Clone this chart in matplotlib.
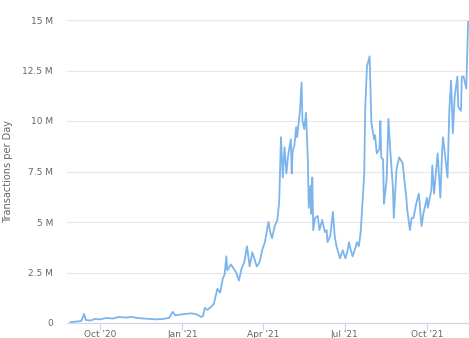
import numpy as np
import pandas as pd
import matplotlib
matplotlib.use('Agg')
from matplotlib import pyplot as plt

# daily transactions, millions
dates = [
    '2020-08-29', '2020-09-05', '2020-09-10', '2020-09-13', '2020-09-15', '2020-09-20',
    '2020-09-25', '2020-10-01', '2020-10-08', '2020-10-15', '2020-10-22', '2020-10-29',
    '2020-11-05', '2020-11-12', '2020-11-19', '2020-11-26', '2020-12-03', '2020-12-10',
    '2020-12-17', '2020-12-21', '2020-12-24', '2020-12-30', '2021-01-05', '2021-01-11',
    '2021-01-17', '2021-01-22', '2021-01-24', '2021-01-26', '2021-01-29', '2021-02-02',
    '2021-02-05', '2021-02-09', '2021-02-12', '2021-02-15', '2021-02-17', '2021-02-19',
    '2021-02-20', '2021-02-24', '2021-02-27', '2021-03-02', '2021-03-05', '2021-03-08',
    '2021-03-11', '2021-03-14', '2021-03-17', '2021-03-20', '2021-03-25', '2021-03-28',
    '2021-03-31', '2021-04-03', '2021-04-07', '2021-04-09', '2021-04-11', '2021-04-14',
    '2021-04-17', '2021-04-19', '2021-04-21', '2021-04-23', '2021-04-25', '2021-04-27',
    '2021-04-29', '2021-05-02', '2021-05-03', '2021-05-04', '2021-05-06', '2021-05-08',
    '2021-05-09', '2021-05-12', '2021-05-14', '2021-05-15', '2021-05-17', '2021-05-19',
    '2021-05-21', '2021-05-22', '2021-05-24', '2021-05-25', '2021-05-26', '2021-05-27',
    '2021-05-29', '2021-06-01', '2021-06-03', '2021-06-06', '2021-06-09', '2021-06-11',
    '2021-06-12', '2021-06-15', '2021-06-18', '2021-06-20', '2021-06-22', '2021-06-24',
    '2021-06-26', '2021-06-29', '2021-07-02', '2021-07-04', '2021-07-06', '2021-07-08',
    '2021-07-10', '2021-07-13', '2021-07-15', '2021-07-17', '2021-07-19', '2021-07-20',
    '2021-07-23', '2021-07-24', '2021-07-26', '2021-07-29', '2021-07-31', '2021-08-03',
    '2021-08-04', '2021-08-06', '2021-08-09', '2021-08-10', '2021-08-11', '2021-08-13',
    '2021-08-14', '2021-08-17', '2021-08-19', '2021-08-21', '2021-08-24', '2021-08-25',
    '2021-08-28', '2021-08-31', '2021-09-04', '2021-09-06', '2021-09-08', '2021-09-09',
    '2021-09-12', '2021-09-14', '2021-09-16', '2021-09-19', '2021-09-22', '2021-09-25',
    '2021-09-27', '2021-10-01', '2021-10-02', '2021-10-06', '2021-10-07', '2021-10-09',
    '2021-10-13', '2021-10-16', '2021-10-18', '2021-10-19', '2021-10-20', '2021-10-24',
    '2021-10-26', '2021-10-28', '2021-10-30', '2021-11-01', '2021-11-04', '2021-11-05',
    '2021-11-08', '2021-11-09', '2021-11-11', '2021-11-14', '2021-11-15', '2021-11-16',
]
tx_millions = [
    0.05, 0.07, 0.10, 0.45, 0.15, 0.12,
    0.20, 0.18, 0.25, 0.22, 0.30, 0.27,
    0.30, 0.25, 0.22, 0.20, 0.18, 0.20,
    0.25, 0.55, 0.38, 0.42, 0.45, 0.48,
    0.42, 0.30, 0.35, 0.75, 0.65, 0.80,
    0.95, 1.7, 1.5, 2.2, 2.4, 3.3,
    2.6, 2.9, 2.7, 2.5, 2.1, 2.7,
    3.0, 3.8, 2.8, 3.5, 2.8, 3.0,
    3.6, 4.0, 5.0, 4.5, 4.2, 4.8,
    5.1, 6.0, 9.2, 7.2, 8.7, 7.4,
    8.3, 9.1, 7.4, 8.5, 8.8, 9.7,
    9.2, 10.4, 11.9, 10.0, 9.6, 10.4,
    8.1, 5.7, 6.8, 5.4, 7.2, 4.6,
    5.2, 5.3, 4.6, 5.1, 4.5, 4.6,
    4.0, 4.3, 5.5, 4.3, 3.8, 3.5,
    3.2, 3.6, 3.2, 3.5, 4.0, 3.6,
    3.3, 3.7, 4.0, 3.8, 4.5, 5.2,
    7.4, 10.5, 12.7, 13.2, 9.9, 9.1,
    9.3, 8.4, 8.6, 10.0, 8.2, 8.1,
    5.9, 7.1, 10.1, 8.6, 6.7, 5.2,
    7.6, 8.2, 7.9, 7.0, 6.2, 5.6,
    4.6, 5.2, 5.2, 5.9, 6.4, 4.8,
    5.4, 6.2, 5.7, 6.6, 7.8, 6.4,
    8.4, 6.2, 8.5, 9.2, 8.8, 7.2,
    10.5, 12.0, 9.4, 11.2, 12.2, 10.7,
    10.5, 12.2, 12.2, 11.6, 13.2, 14.9,
]

y_ticks = [0, 2.5, 5, 7.5, 10, 12.5, 15]
y_tick_labels = ['0', '2.5 M', '5 M', '7.5 M', '10 M', '12.5 M', '15 M']
x_ticks = ['2020-10-01', '2021-01-01', '2021-04-01', '2021-07-01', '2021-10-01']
x_tick_labels = ["Oct '20", "Jan '21", "Apr '21", "Jul '21", "Oct '21"]

x = pd.to_datetime(dates)

fig = plt.figure(figsize=(4.69, 3.38), dpi=100)
ax = fig.add_axes([67 / 469, 15 / 338, 402 / 469, 303 / 338])

ax.plot(x, tx_millions, color='#7cb5ec', lw=1.3, solid_joinstyle='round')

ax.set_ylim(0, 15)
ax.set_xlim(pd.Timestamp('2020-08-25'), pd.Timestamp('2021-11-17'))

ax.set_yticks(y_ticks)
ax.set_yticklabels(y_tick_labels)
ax.set_xticks(pd.to_datetime(x_ticks))
ax.set_xticklabels(x_tick_labels)

ax.grid(axis='y', color='#e6e6e6', lw=0.8)
ax.set_axisbelow(True)
for s in ['top', 'right', 'left']:
    ax.spines[s].set_visible(False)
ax.spines['bottom'].set_color('#ccd6eb')
ax.spines['bottom'].set_linewidth(0.8)

ax.tick_params(axis='y', length=0, pad=10, labelsize=6.5, labelcolor='#666666')
ax.tick_params(axis='x', length=5, width=0.8, color='#ccd6eb', pad=0,
               labelsize=6.5, labelcolor='#666666')

ax.set_ylabel('Transactions per Day', fontsize=7, color='#666666')
ax.yaxis.set_label_coords(-0.135, 0.5)

fig.savefig('out.png', dpi=100)
plt.close(fig)
